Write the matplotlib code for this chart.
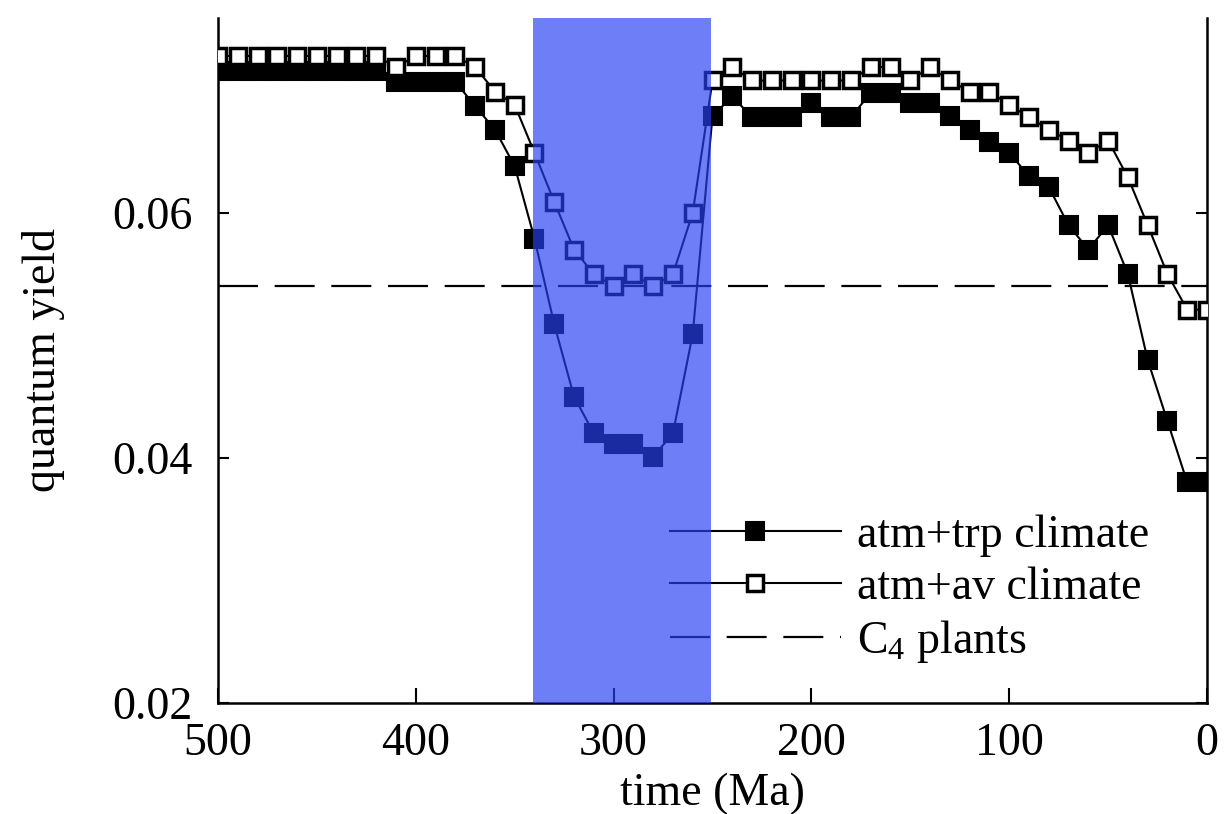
import numpy as np
import matplotlib
matplotlib.use('Agg')
import matplotlib.pyplot as plt

plt.rcParams['font.family'] = ['Liberation Serif', 'DejaVu Serif']
plt.rcParams['mathtext.fontset'] = 'custom'
plt.rcParams['mathtext.rm'] = 'Liberation Serif'
plt.rcParams['mathtext.it'] = 'Liberation Serif:italic'

# time axis (Ma), one point every 10 Ma from 500 to 0
time_ma = list(range(500, -1, -10))

# atm+trp climate (filled squares)
trp = [0.0716, 0.0716, 0.0716, 0.0716, 0.0716, 0.0716, 0.0716, 0.0716, 0.0716,
       0.0707, 0.0707, 0.0707, 0.0707,
       0.0687, 0.0668, 0.0638, 0.0579, 0.0509, 0.0450, 0.0420, 0.0411, 0.0411,
       0.0401, 0.0420, 0.0501, 0.0679, 0.0695, 0.0678, 0.0678, 0.0678, 0.0690,
       0.0678, 0.0678, 0.0698, 0.0698, 0.0690, 0.0690, 0.0679, 0.0668, 0.0658,
       0.0649, 0.0630, 0.0621, 0.0590, 0.0570, 0.0590, 0.0550, 0.0480, 0.0430,
       0.0380, 0.0380]

# atm+av climate (open squares)
av = [0.0728, 0.0728, 0.0728, 0.0728, 0.0728, 0.0728, 0.0728, 0.0728, 0.0728,
      0.0719, 0.0728, 0.0728, 0.0728,
      0.0719, 0.0699, 0.0688, 0.0649, 0.0609, 0.0570, 0.0550, 0.0540, 0.0550,
      0.0540, 0.0550, 0.0600, 0.0708, 0.0719, 0.0708, 0.0708, 0.0708, 0.0708,
      0.0708, 0.0708, 0.0719, 0.0719, 0.0708, 0.0719, 0.0708, 0.0699, 0.0699,
      0.0688, 0.0678, 0.0668, 0.0659, 0.0649, 0.0659, 0.0629, 0.0590, 0.0550,
      0.0521, 0.0521]

c4_yield = 0.054
band = (341, 251)

fig = plt.figure(figsize=(12.25, 8.14), dpi=100)
ax = fig.add_axes([218/1225, 1-703/814, (1207-218)/1225, (703-18)/814])

ax.axhline(c4_yield, color='black', lw=1.6, dashes=(18, 7.5), zorder=1,
           label='C$_{\\rm 4}$ plants')
ax.plot(time_ma, trp, color='black', lw=1.5, marker='s', ms=12.5, mew=1.5,
        mfc='black', mec='black', zorder=2, label='atm+trp climate')
ax.plot(time_ma, av, color='black', lw=1.5, marker='s', ms=11.5, mew=2.5,
        mfc='white', mec='black', zorder=3, label='atm+av climate')

ax.axvspan(band[0], band[1], color=(39/255, 63/255, 242/255), alpha=0.67,
           lw=0, zorder=6)

ax.set_xlim(500, 0)
ax.set_ylim(0.02, 0.0759)
ax.set_xticks([500, 400, 300, 200, 100, 0])
ax.set_yticks([0.02, 0.04, 0.06])
ax.set_yticklabels(['0.02', '0.04', '0.06'])

ax.spines['top'].set_visible(False)
for s in ['left', 'right', 'bottom']:
    ax.spines[s].set_linewidth(1.8)

ax.tick_params(axis='x', direction='in', length=11, width=1.5, labelsize=33,
               pad=14, top=False)
ax.tick_params(axis='y', direction='in', length=8, width=1.5, labelsize=33,
               pad=18, right=True)

ax.set_xlabel('time (Ma)', fontsize=33)
ax.set_ylabel('quantum yield', fontsize=33)
ax.xaxis.set_label_coords(0.5, -0.102)
ax.yaxis.set_label_coords(-0.155, 0.5)

h, l = ax.get_legend_handles_labels()
order = [1, 2, 0]
leg = ax.legend([h[i] for i in order], [l[i] for i in order],
                loc='upper left', bbox_to_anchor=(0.457, 0.275), frameon=False,
                fontsize=33, handlelength=3.73, handletextpad=0.35,
                labelspacing=0.2, borderpad=0, borderaxespad=0, numpoints=1)
leg.set_zorder(5)

fig.savefig('out.png', dpi=100)
